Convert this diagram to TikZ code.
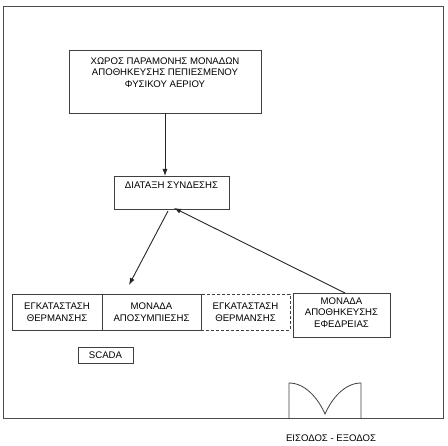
\documentclass[tikz,border=0pt]{standalone}
\usepackage{fontspec}
\setmainfont{Liberation Sans}
\usetikzlibrary{arrows.meta}
\begin{document}
\begin{tikzpicture}[x=1pt,y=-1pt,
  box/.style={draw=black!75,line width=0.8pt,inner sep=0pt,outer sep=0pt,font=\fontsize{9.6}{11.5}\selectfont,align=center},
  conn/.style={draw=black!85,line width=0.9pt,-{Latex[length=7pt,width=5pt]}},
  lbl/.style={font=\fontsize{9.6}{11.5}\selectfont,align=center,inner sep=0pt}]
\useasboundingbox (0,0) rectangle (448,446);
% outer frame
\draw[black!70,line width=1pt] (3,7) rectangle (443,419);
% top box
\node[box,minimum width=192pt,minimum height=63pt] (store) at (165,81.5) {};
\node[lbl,anchor=north] (storet) at (165,57.5) {ΧΩΡΟΣ ΠΑΡΑΜΟΝΗΣ ΜΟΝΑΔΩΝ\\ΑΠΟΘΗΚΕΥΣΗΣ ΠΕΠΙΕΣΜΕΝΟΥ\\ΦΥΣΙΚΟΥ ΑΕΡΙΟΥ};
% connection box
\node[box,minimum width=115pt,minimum height=33pt] (conn) at (171.5,192.5) {};
\node[lbl] (connt) at (171.5,185.5) {ΔΙΑΤΑΞΗ ΣΥΝΔΕΣΗΣ};
% bottom row
\node[box,minimum width=90pt,minimum height=36pt] (heat1) at (57,312) {ΕΓΚΑΤΑΣΤΑΣΗ\\ΘΕΡΜΑΝΣΗΣ};
\node[box,minimum width=99pt,minimum height=36pt] (decomp) at (151.5,312) {ΜΟΝΑΔΑ\\ΑΠΟΣΥΜΠΙΕΣΗΣ};
\node[box,dash pattern=on 3pt off 2pt,minimum width=89pt,minimum height=36pt] (heat2) at (245.5,312) {ΕΓΚΑΤΑΣΤΑΣΗ\\ΘΕΡΜΑΝΣΗΣ};
\node[box,minimum width=97pt,minimum height=44pt] (reserve) at (341.5,315) {};
\node[lbl] (reservet) at (341.5,312.5) {ΜΟΝΑΔΑ\\ΑΠΟΘΗΚΕΥΣΗΣ\\ΕΦΕΔΡΕΙΑΣ};
% scada
\node[box,minimum width=55pt,minimum height=16pt] (scada) at (105.5,355) {SCADA};
% connectors
\coordinate (a1) at (165,113);
\coordinate (a2) at (165,176);
\draw[conn] (a1) -- (a2);
\coordinate (b1) at (168,211);
\coordinate (b2) at (129,285);
\draw[conn] (b1) -- (b2);
\coordinate (c1) at (345,293);
\coordinate (c2) at (174,208);
\draw[conn] (c1) -- (c2);
% door
\draw[black!75,line width=0.8pt] (289,419) -- (289,383) .. controls (305,383) and (318,398) .. (325,414)
  .. controls (332,398) and (345,383) .. (361,383) -- (361,419);
\node[lbl] (door) at (331,438) {ΕΙΣΟΔΟΣ - ΕΞΟΔΟΣ};
\end{tikzpicture}
\end{document}
